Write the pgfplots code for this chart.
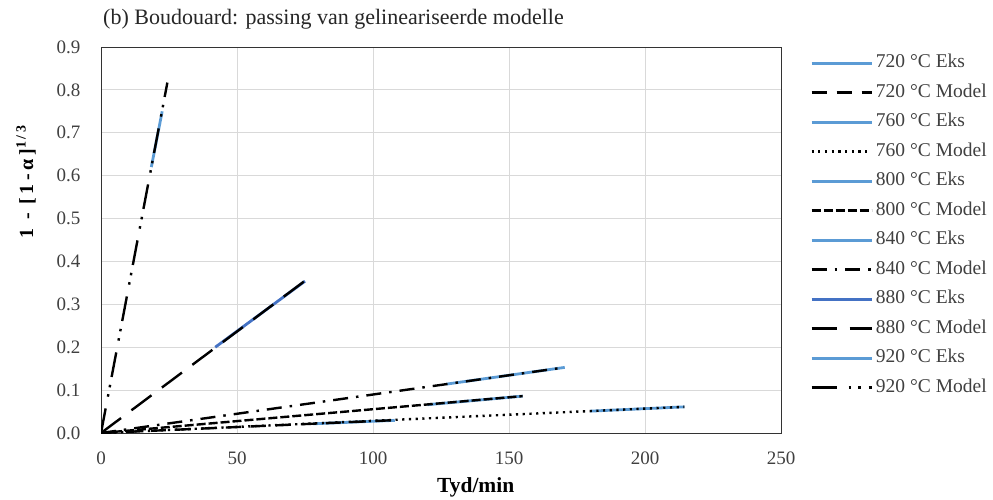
\documentclass[border=0pt]{standalone}
\usepackage{fontspec}
\setmainfont{Liberation Serif}
\newfontfamily\labfont[LetterSpace=18]{Liberation Serif}
\usepackage{pgfplots}
\pgfplotsset{compat=1.18}
\definecolor{eks}{HTML}{5B9BD5}
\definecolor{eksd}{HTML}{4472C4}
\definecolor{gridc}{HTML}{D9D9D9}
\definecolor{txt}{HTML}{404040}
\begin{document}
\begin{tikzpicture}
\path[use as bounding box] (0,0) rectangle (993pt,499pt);
\node[anchor=west,font=\fontsize{22}{24}\selectfont,text=black!85,inner sep=0pt] at (103pt,480pt) {(b) Boudouard: passing van gelineariseerde modelle};
\begin{axis}[
  at={(101pt,66pt)}, anchor=south west,
  scale only axis, width=680pt, height=386pt,
  xmin=0, xmax=250, ymin=0, ymax=0.9,
  xtick={0,50,...,250}, ytick={0,0.1,...,0.9},
  grid=major, grid style={gridc, line width=0.8pt},
  major tick length=0pt,
  axis line style={black!80, line width=1pt},
  /pgf/number format/assume math mode=true,
  yticklabel={\pgfmathprintnumber[fixed,fixed zerofill,precision=1]{\tick}},
  xticklabel style={font=\fontsize{19}{22}\selectfont, text=txt, yshift=-15pt},
  yticklabel style={font=\fontsize{19}{22}\selectfont, text=txt, xshift=-17pt},
  xlabel={\textbf{Tyd/min}},
  ylabel={\labfont\bfseries 1\hspace{0.45em}-\hspace{0.45em}[1-α]\textsuperscript{1/3}},
  xlabel style={font=\fontsize{21.5}{24}\selectfont, at={(rel axis cs:0.551,-0.140)}, anchor=center},
  ylabel style={font=\fontsize{20}{22}\selectfont, at={(rel axis cs:-0.1103,0.650)}, anchor=center},
  legend cell align=left,
  legend style={at={(1.0426,0.9806)}, anchor=north west, draw=none, fill=none,
    inner xsep=0pt, inner ysep=0pt, row sep=12.5pt,
    font=\fontsize{19.5}{21}\selectfont, text=txt,
    nodes={inner xsep=3pt, inner ysep=0pt, text height=13pt, text depth=4pt}},
  legend image code/.code={\draw[#1] (0pt,0pt) -- (60pt,0pt);},
]
% 720
\addplot[eks, line width=2.8pt] coordinates {(78,0.0215) (108,0.0295)};
\addlegendentry{720 °C Eks}
\addplot[black, line width=2.4pt, dash pattern=on 15pt off 10pt] coordinates {(0,0) (108,0.0300)};
\addlegendentry{720 °C Model}
% 760
\addplot[eks, line width=2.8pt] coordinates {(180,0.051) (214.5,0.061)};
\addlegendentry{760 °C Eks}
\addplot[black, line width=2.4pt, dash pattern=on 2.2pt off 4.5pt] coordinates {(0,0) (214.5,0.061)};
\addlegendentry{760 °C Model}
% 800
\addplot[eks, line width=2.8pt] coordinates {(120,0.066) (155,0.086)};
\addlegendentry{800 °C Eks}
\addplot[black, line width=2.4pt, dash pattern=on 9pt off 3pt] coordinates {(0,0) (155,0.086)};
\addlegendentry{800 °C Model}
% 840
\addplot[eks, line width=2.8pt] coordinates {(127,0.114) (170.5,0.153)};
\addlegendentry{840 °C Eks}
\addplot[black, line width=2.4pt, dash pattern=on 15pt off 8pt on 2.5pt off 8pt] coordinates {(0,0) (170.5,0.153)};
\addlegendentry{840 °C Model}
% 880
\addplot[eksd, line width=2.8pt] coordinates {(42,0.2) (75,0.354)};
\addlegendentry{880 °C Eks}
\addplot[black, line width=2.4pt, dash pattern=on 25pt off 13pt] coordinates {(0,0) (75,0.355)};
\addlegendentry{880 °C Model}
% 920
\addplot[eks, line width=2.8pt] coordinates {(18.5,0.62) (22.5,0.75)};
\addlegendentry{920 °C Eks}
\addplot[black, line width=2.4pt, dash pattern=on 25pt off 12pt on 2.5pt off 7pt on 2.5pt off 8pt] coordinates {(0,0) (24.4,0.817)};
\addlegendentry{920 °C Model}
\end{axis}
\end{tikzpicture}
\end{document}
